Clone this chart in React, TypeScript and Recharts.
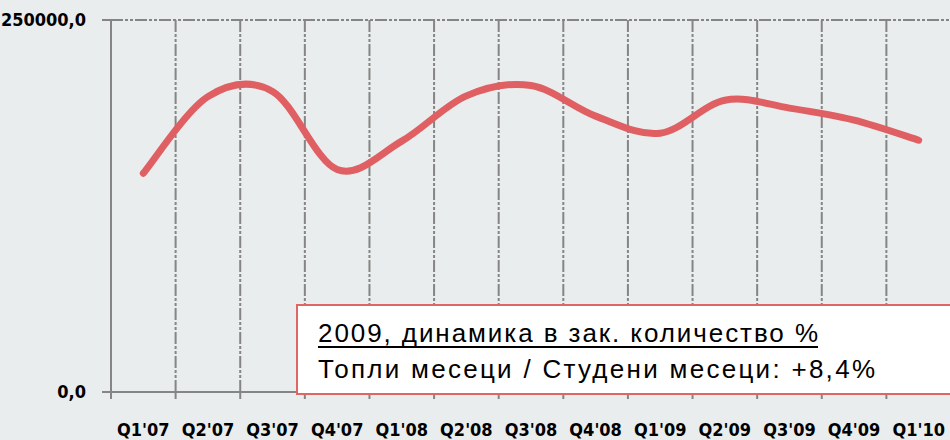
import React from 'react';
import { LineChart, Line, XAxis, YAxis, CartesianGrid } from 'recharts';

const categories = ["Q1'07", "Q2'07", "Q3'07", "Q4'07", "Q1'08", "Q2'08", "Q3'08", "Q4'08", "Q1'09", "Q2'09", "Q3'09", "Q4'09", "Q1'10"];
const values = [147000, 198500, 202000, 149500, 168600, 199000, 206000, 185400, 173900, 196100, 190800, 182700, 169200];
const yTicks = [0, 250000];
const noteTitle = '2009, динамика в зак. количество %';
const noteText = 'Топли месеци / Студени месеци: +8,4%';

const data = categories.map((c, i) => ({ pos: i + 0.5, label: c, value: values[i] }));
const boundaries = categories.map((_, i) => i).concat([categories.length]);
const centers = categories.map((_, i) => i + 0.5);
const allTicks = [...boundaries, ...centers].sort((a, b) => a - b);

const BG = '#EAEDED';
const GRID = '#858585';
const RED = '#DF5F62';
const AXIS_FONT = '"DejaVu Sans Condensed", "DejaVu Sans", sans-serif';

// Excel-like smoothed line (Catmull-Rom with Bezier segments)
function excelCurve(context: any) {
  let pts: number[][] = [];
  return {
    areaStart() {},
    areaEnd() {},
    lineStart() { pts = []; },
    point(x: number, y: number) { pts.push([+x, +y]); },
    lineEnd() {
      const n = pts.length;
      if (!n) return;
      context.moveTo(pts[0][0], pts[0][1]);
      for (let i = 0; i < n - 1; i++) {
        const p0 = pts[i - 1] || pts[i];
        const p1 = pts[i];
        const p2 = pts[i + 1];
        const p3 = pts[i + 2] || pts[i + 1];
        const c1x = p1[0] + (p2[0] - p0[0]) / 6;
        const c1y = p1[1] + (p2[1] - p0[1]) / 6;
        const c2x = p2[0] - (p3[0] - p1[0]) / 6;
        const c2y = p2[1] - (p3[1] - p1[1]) / 6;
        context.bezierCurveTo(c1x, c1y, c2x, c2y, p2[0], p2[1]);
      }
    },
  };
}

const XTick = (props: any) => {
  const { x, y, payload } = props;
  const v = payload.value;
  if (Number.isInteger(v)) {
    return <line x1={x} x2={x} y1={y} y2={y + 7} stroke={GRID} strokeWidth={2} />;
  }
  const label = categories[Math.floor(v)];
  return (
    <text x={x} y={y + 43.5} textAnchor="middle" fill="#000" fontFamily={AXIS_FONT} fontWeight="bold" fontSize={18}>
      {label}
    </text>
  );
};

export default function App() {
  return (
    <div style={{ position: 'absolute', left: 0, top: 0, width: 950, height: 440, overflow: 'hidden', background: BG }}>
      <LineChart width={952} height={440} data={data} margin={{ top: 20, right: 1, bottom: 8, left: 0 }}>
        <CartesianGrid
          stroke={GRID}
          strokeWidth={2}
          strokeDasharray="12 2 3 2 3 2"
          verticalValues={boundaries.slice(1)}
          horizontalValues={[250000]}
        />
        <XAxis
          dataKey="pos"
          type="number"
          domain={[0, categories.length]}
          ticks={allTicks}
          interval={0}
          tick={<XTick />}
          tickLine={false}
          tickSize={0}
          tickMargin={0}
          axisLine={{ stroke: GRID, strokeWidth: 2 }}
          height={40}
        />
        <YAxis
          type="number"
          domain={[0, 250000]}
          ticks={yTicks}
          interval={0}
          width={111}
          tickSize={9}
          tickMargin={16}
          axisLine={{ stroke: GRID, strokeWidth: 2 }}
          tickLine={{ stroke: GRID, strokeWidth: 2 }}
          tickFormatter={(v: number) => v.toFixed(1).replace('.', ',')}
          tick={{ fill: '#000', fontFamily: AXIS_FONT, fontWeight: 'bold', fontSize: 18 }}
        />
        <Line
          dataKey="value"
          type={excelCurve as any}
          stroke={RED}
          strokeWidth={7}
          dot={false}
          activeDot={false}
          isAnimationActive={false}
          strokeLinecap="round"
          strokeLinejoin="round"
        />
      </LineChart>
      <svg width={950} height={440} style={{ position: 'absolute', left: 0, top: 0, pointerEvents: 'none' }}>
        <rect x={297} y={305} width={700} height={89} fill="#FFFFFF" stroke="#E06666" strokeWidth={2} />
        <text x={318} y={342} fontFamily='"Liberation Sans", Arial, sans-serif' fontSize={26} fill="#000" textLength={500} lengthAdjust="spacing">
          {noteTitle}
        </text>
        <line x1={318} x2={818} y1={347} y2={347} stroke="#000" strokeWidth={2} />
        <text x={318} y={378} fontFamily='"Liberation Sans", Arial, sans-serif' fontSize={26} fill="#000" textLength={557} lengthAdjust="spacing">
          {noteText}
        </text>
      </svg>
    </div>
  );
}
